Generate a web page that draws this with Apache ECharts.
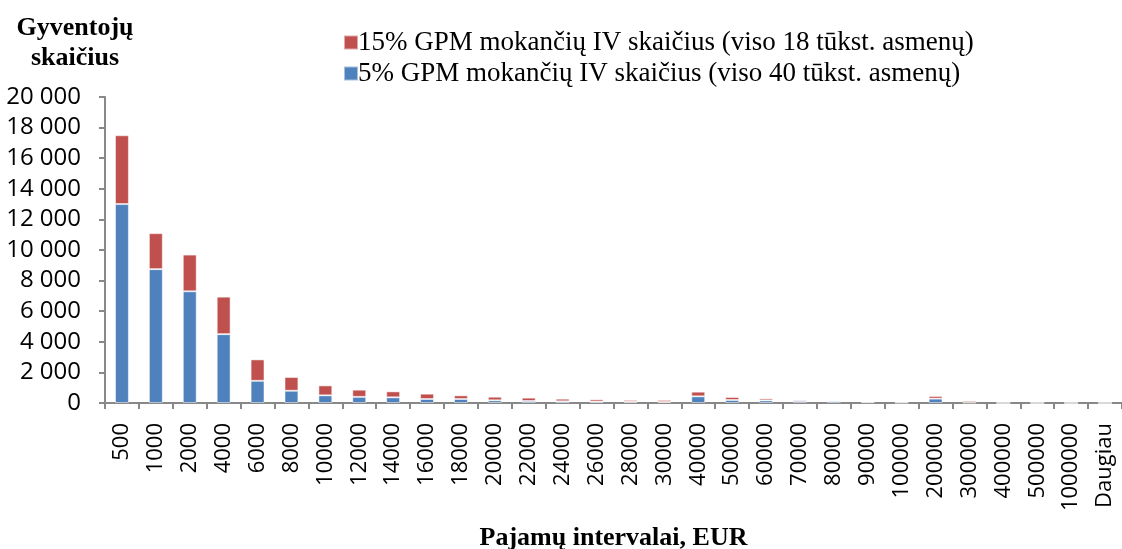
<!DOCTYPE html>
<html>
<head>
<meta charset="utf-8">
<script src="https://cdn.jsdelivr.net/npm/echarts@6/dist/echarts.min.js"></script>
<style>
    html, body { margin: 0; padding: 0; background: #fff; }
    #chart { width: 1122px; height: 549px; }
</style>
</head>
<body>
<div id="chart"></div>
<script>
// pajamų intervalai
const categories = ["500", "1000", "2000", "4000", "6000", "8000", "10000", "12000", "14000", "16000",
    "18000", "20000", "22000", "24000", "26000", "28000", "30000", "40000", "50000", "60000",
    "70000", "80000", "90000", "100000", "200000", "300000", "400000", "500000", "1000000", "Daugiau"];

// 5% GPM mokantys
const low = [13000, 8750, 7300, 4500, 1450, 800, 500, 400, 370, 260,
    260, 175, 130, 110, 90, 80, 65, 435, 195, 170,
    130, 120, 50, 20, 285, 30, 0, 0, 0, 0];

// 15% GPM mokantys
const high = [4500, 2350, 2400, 2450, 1400, 900, 650, 470, 390, 350,
    240, 235, 220, 170, 150, 120, 135, 305, 195, 130,
    90, 30, 60, 70, 175, 110, 0, 0, 0, 0];

const yTicks = [0, 2000, 4000, 6000, 8000, 10000, 12000, 14000, 16000, 18000, 20000];

const axisColor = "#888888";
const sansFont = "Open Sans";
const serifFont = "Liberation Serif";

let myChart = echarts.init(document.getElementById("chart"));
let options = {
    animation: false,
    title: {
        text: "Gyventojų\nskaičius",
        left: 70,
        top: 8,
        textAlign: "center",
        textStyle: {
            fontFamily: serifFont,
            fontWeight: "bold",
            fontSize: 26,
            lineHeight: 30,
            color: "#000",
        },
    },
    legend: {
        orient: "vertical",
        left: 338,
        top: 24,
        icon: "rect",
        itemWidth: 14,
        itemHeight: 14,
        itemGap: 4,
        data: ["15% GPM mokančių IV skaičius (viso 18 tūkst. asmenų)", "5% GPM mokančių IV skaičius (viso 40 tūkst. asmenų)"],
        textStyle: {
            fontFamily: serifFont,
            fontSize: 27,
            color: "#000",
            padding: [0, 0, 0, -5],
        },
    },
    grid: {
        left: 105,
        right: 0,
        top: 97,
        bottom: 146,
        outerBoundsMode: "none",
    },
    xAxis: {
        type: "category",
        data: categories,
        name: "Pajamų intervalai, EUR",
        nameLocation: "middle",
        nameGap: 122,
        nameTextStyle: {
            fontFamily: serifFont,
            fontWeight: "bold",
            fontSize: 26,
            color: "#000",
            verticalAlign: "top",
        },
        axisLine: {
            lineStyle: { color: axisColor, width: 2 },
        },
        axisTick: {
            show: true,
            length: 6,
            lineStyle: { color: axisColor, width: 2 },
        },
        axisLabel: {
            rotate: 90,
            margin: 20,
            interval: 0,
            fontFamily: sansFont,
            fontSize: 22,
            color: "#000",
        },
    },
    yAxis: {
        type: "value",
        min: yTicks[0],
        max: yTicks[yTicks.length - 1],
        interval: 2000,
        splitLine: { show: false },
        axisLine: {
            show: true,
            lineStyle: { color: axisColor, width: 2 },
        },
        axisTick: {
            show: true,
            length: 6,
            lineStyle: { color: axisColor, width: 2 },
        },
        axisLabel: {
            margin: 24,
            fontFamily: sansFont,
            fontSize: 24,
            color: "#000",
            formatter: (v) => String(v).replace(/\B(?=(\d{3})+(?!\d))/g, " "),
        },
    },
    series: [
        {
            name: "5% GPM mokančių IV skaičius (viso 40 tūkst. asmenų)",
            type: "bar",
            stack: "total",
            barWidth: "41%",
            data: low,
            itemStyle: { color: "#4F81BD", borderColor: "rgba(255,255,255,0.5)", borderWidth: 1 },
        },
        {
            name: "15% GPM mokančių IV skaičius (viso 18 tūkst. asmenų)",
            type: "bar",
            stack: "total",
            barWidth: "41%",
            data: high,
            itemStyle: { color: "#C0504D", borderColor: "rgba(255,255,255,0.5)", borderWidth: 1 },
        },
    ],
};
myChart.setOption(options);
</script>
</body>
</html>
